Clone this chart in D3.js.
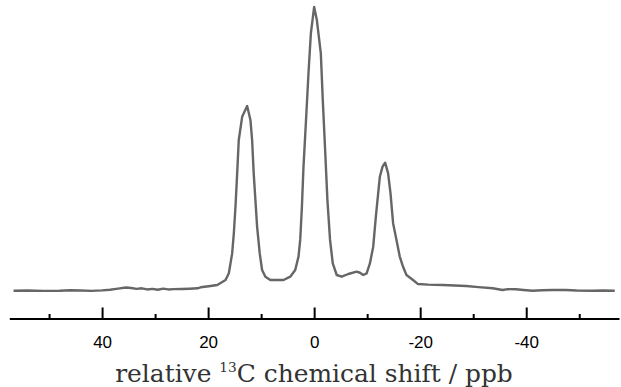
<!DOCTYPE html>
<html><head><meta charset="utf-8">
<script src="https://cdn.jsdelivr.net/npm/d3@7"></script>
<style>html,body{margin:0;padding:0;background:#fff;}svg{display:block;}</style>
</head><body>
<script>
// chemical shift (ppb) and normalised intensity
const shift = [56.7,54,51,48,46,44,42,40,38.5,37.0,35.5,34.5,33.5,32.5,31.5,30.5,29.5,28.5,27.5,26.5,25,23.5,22,21.4,19.55,18.27,16.71,16.09,15.46,15.15,14.84,14.52,14.22,13.58,12.64,12.02,11.70,11.40,11.08,10.76,10.27,9.82,9.20,8.26,5.77,4.51,3.57,2.95,2.63,2.31,2.01,1.50,1.07,0.62,0,-0.51,-1.26,-1.63,-2.07,-2.50,-3.00,-3.51,-4.26,-5.20,-6.44,-8.02,-8.64,-9.26,-9.90,-10.52,-11.14,-11.64,-12.08,-12.39,-12.90,-13.39,-13.95,-14.40,-14.89,-15.53,-16.15,-16.77,-17.41,-18.65,-19.59,-21.5,-24.28,-26.5,-28.68,-31,-33.67,-35.55,-36.5,-38.07,-39.5,-41.2,-43,-45,-47.46,-49.5,-52.45,-54.5,-56.7];
const intensity = [-0.25,-0.2,-0.3,-0.25,-0.1,-0.2,-0.3,-0.15,0.1,0.5,0.9,0.7,0.4,0.6,0.2,0.4,0.1,0.5,0.2,0.3,0.35,0.45,0.6,0.95,1.41,1.77,3.53,5.9,13.0,20.0,29.4,41.2,53.0,61.2,65.0,60.1,53.0,41.2,31.8,22.4,13.0,7.07,4.7,3.53,3.53,4.7,7.07,11.8,17.7,29.4,43.6,61.2,76.6,90.7,100,95.4,83.6,67.1,49.5,31.8,17.7,9.4,5.3,4.7,5.65,6.47,6.1,5.3,5.9,9.4,15.3,25.9,34.2,40.0,43.6,45.0,41.2,34.2,23.6,17.7,11.8,8.2,5.3,3.53,2.1,1.9,1.77,1.6,1.41,1.0,0.6,0.0,0.3,0.25,0.0,-0.25,-0.1,0.0,0.0,-0.2,-0.25,-0.2,-0.25];
const majorTicks = [40,20,0,-20,-40];
const majorLabels = ["40","20","0","-20","-40"];
const minorTicks = [50,30,10,-10,-30,-50];
const xDomain = [57.5,-57.5];
const yDomain = [0,100];

const W=621,H=387;
const svg=d3.select("body").append("svg").attr("width",W).attr("height",H);
const x=d3.scaleLinear().domain(xDomain).range([9.3,619]);
const y=d3.scaleLinear().domain(yDomain).range([290,7]);
const axisY=318.5;

const data=shift.map((s,i)=>({s,v:intensity[i]}));
svg.append("path").datum(data)
  .attr("fill","none").attr("stroke","#666666").attr("stroke-width",2.4)
  .attr("stroke-linejoin","round")
  .attr("d",d3.line().x(d=>x(d.s)).y(d=>y(d.v)));

const gMinor=svg.append("g").attr("transform",`translate(0,${axisY})`)
  .call(d3.axisBottom(x).tickValues(minorTicks).tickSizeInner(-4.5).tickSizeOuter(0).tickFormat(""));
gMinor.select(".domain").remove();
gMinor.selectAll("line").attr("stroke","#000").attr("stroke-width",2);

const gMajor=svg.append("g").attr("transform",`translate(0,${axisY})`)
  .call(d3.axisBottom(x).tickValues(majorTicks).tickSizeInner(-11).tickSizeOuter(0)
    .tickFormat((d,i)=>majorLabels[i]));
gMajor.select(".domain").attr("stroke","#000").attr("stroke-width",2);
gMajor.selectAll("line").attr("stroke","#000").attr("stroke-width",2);
gMajor.selectAll("text").attr("y",29).attr("dy",0)
  .attr("font-family","'Liberation Sans', Arial, sans-serif").attr("font-size",17).attr("fill","#000");

let fs=24;
const title=svg.append("text").attr("x",314).attr("y",382).attr("text-anchor","middle")
  .attr("font-family","'DejaVu Serif',serif").attr("font-size",fs).attr("fill","#333");
title.append("tspan").text("relative ");
const sup=title.append("tspan").attr("font-size",fs*0.55).attr("dy",-fs*0.42).text("13");
const rest=title.append("tspan").attr("dy",fs*0.42).text("C chemical shift / ppb");
// fit to the reference width
const w=title.node().getComputedTextLength();
fs=fs*398/w;
title.attr("font-size",fs);
sup.attr("font-size",fs*0.55).attr("dy",-fs*0.42);
rest.attr("dy",fs*0.42);
</script>
</body></html>
